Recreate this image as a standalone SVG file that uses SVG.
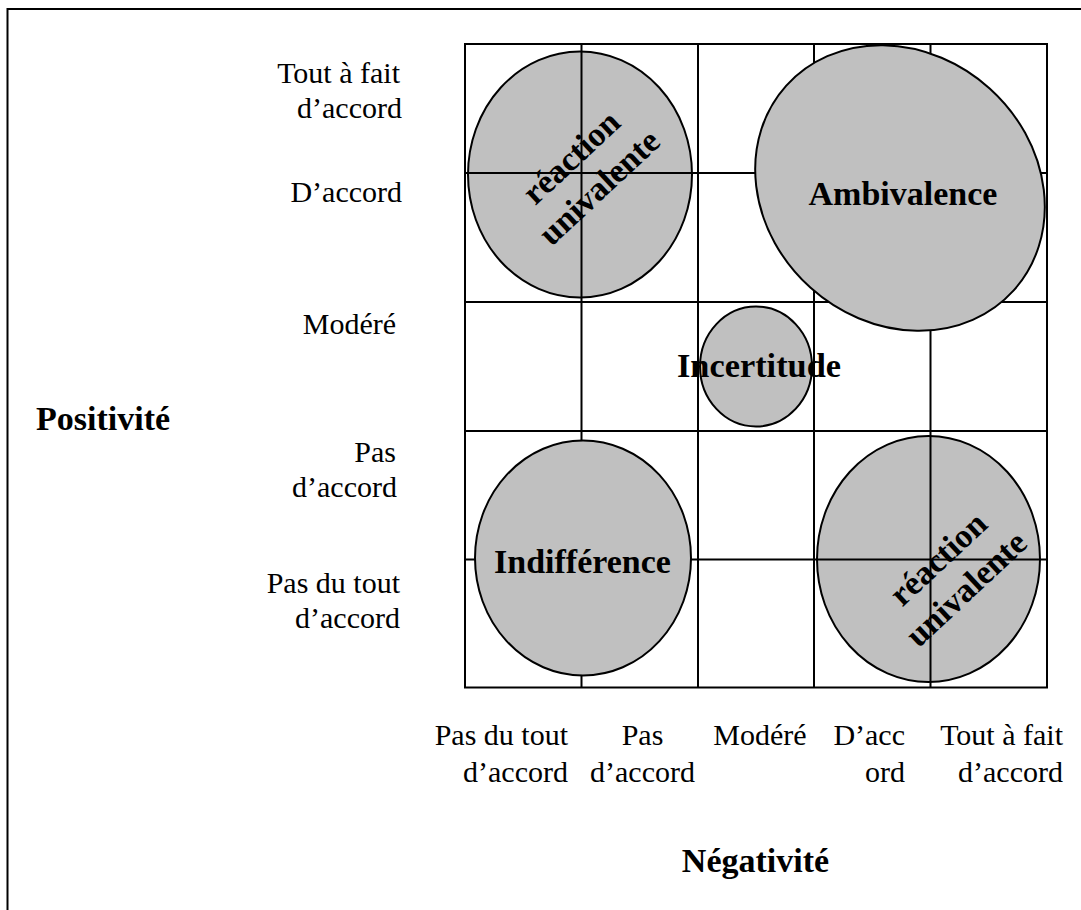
<svg xmlns="http://www.w3.org/2000/svg" width="1081" height="910" viewBox="0 0 1081 910">
<style>
.lbl{font-family:"Liberation Serif","Times New Roman",serif;font-size:30px;fill:#000}
.bold{font-family:"Liberation Serif","Times New Roman",serif;font-size:34px;font-weight:bold;fill:#000}
.rot{font-family:"Liberation Serif","Times New Roman",serif;font-size:34px;font-weight:bold;fill:#000}
.blob{fill:#c0c0c0;stroke:#000;stroke-width:2}
.grid line{stroke:#000;stroke-width:2}
</style>
<rect width="1081" height="910" fill="#fff"/>
<rect x="7.5" y="9" width="1200" height="1000" fill="none" stroke="#000" stroke-width="2"/>

<g id="node-univalente-haut"><ellipse class="blob" cx="580" cy="174.5" rx="112" ry="123"/></g>
<g id="node-univalente-bas"><ellipse class="blob" cx="928.5" cy="559" rx="111.5" ry="123"/></g>

<g id="grid" class="grid">
<line x1="465" y1="44" x2="465" y2="688"/>
<line x1="581.5" y1="44" x2="581.5" y2="688"/>
<line x1="698" y1="44" x2="698" y2="688"/>
<line x1="814" y1="44" x2="814" y2="688"/>
<line x1="930.5" y1="44" x2="930.5" y2="688"/>
<line x1="1047" y1="44" x2="1047" y2="688"/>
<line x1="464" y1="44" x2="1048" y2="44"/>
<line x1="464" y1="173" x2="1048" y2="173"/>
<line x1="464" y1="302" x2="1048" y2="302"/>
<line x1="464" y1="431" x2="1048" y2="431"/>
<line x1="464" y1="559.5" x2="1048" y2="559.5"/>
<line x1="464" y1="687.5" x2="1048" y2="687.5"/>
</g>

<g id="node-univalente-haut-label"><text class="rot" text-anchor="middle" transform="translate(585,172) rotate(-43)"><tspan x="0" y="-9">réaction</tspan><tspan x="0" y="32">univalente</tspan></text></g>
<g id="node-univalente-bas-label"><text class="rot" text-anchor="middle" transform="translate(952,573.5) rotate(-43)"><tspan x="0" y="-9">réaction</tspan><tspan x="0" y="32">univalente</tspan></text></g>

<g id="node-ambivalence">
<ellipse class="blob" cx="900" cy="188" rx="153" ry="134" transform="rotate(42 900 188)"/>
<text class="bold" x="903" y="205" text-anchor="middle">Ambivalence</text>
</g>
<g id="node-incertitude">
<ellipse class="blob" cx="756" cy="366.5" rx="56" ry="60"/>
<text class="bold" x="759" y="377" text-anchor="middle" textLength="164" lengthAdjust="spacingAndGlyphs">Incertitude</text>
</g>
<g id="node-indifference">
<ellipse class="blob" cx="583" cy="558" rx="108" ry="117.5"/>
<text class="bold" x="582.5" y="573" text-anchor="middle">Indifférence</text>
</g>

<g id="axis-positivite" class="lbl" text-anchor="end">
<text x="400" y="83">Tout à fait</text>
<text x="402" y="118">d’accord</text>
<text x="402" y="202">D’accord</text>
<text x="396" y="334">Modéré</text>
<text x="396" y="462">Pas</text>
<text x="397" y="497">d’accord</text>
<text x="400" y="593">Pas du tout</text>
<text x="400" y="628">d’accord</text>
</g>
<g id="axis-positivite-title"><text class="bold" x="36" y="430">Positivité</text></g>

<g id="axis-negativite" class="lbl">
<text x="568" y="745" text-anchor="end">Pas du tout</text>
<text x="568" y="782" text-anchor="end">d’accord</text>
<text x="642.5" y="745" text-anchor="middle">Pas</text>
<text x="642.5" y="782" text-anchor="middle">d’accord</text>
<text x="760" y="745" text-anchor="middle">Modéré</text>
<text x="905" y="745" text-anchor="end">D’acc</text>
<text x="905" y="782" text-anchor="end">ord</text>
<text x="1063" y="745" text-anchor="end">Tout à fait</text>
<text x="1063" y="782" text-anchor="end">d’accord</text>
</g>
<g id="axis-negativite-title"><text class="bold" x="755.5" y="872" text-anchor="middle">Négativité</text></g>
</svg>
